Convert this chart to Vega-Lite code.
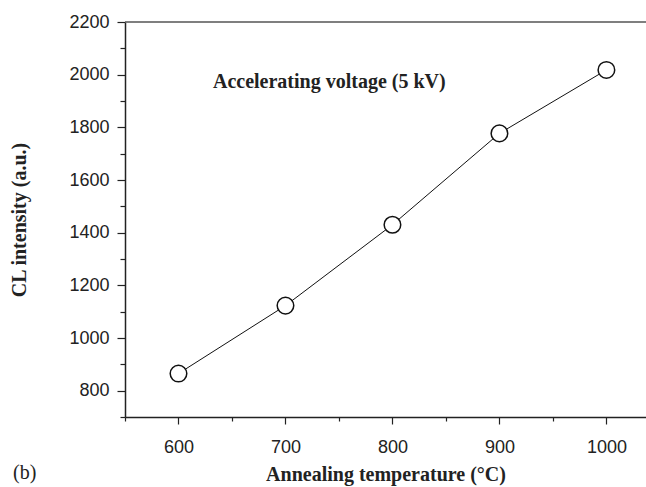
{
  "$schema": "https://vega.github.io/schema/vega-lite/v6.json",
  "width": 521,
  "height": 395,
  "autosize": {"type": "none"},
  "padding": {"left": 125, "top": 22, "right": 0, "bottom": 70},
  "background": "white",
  "config": {
    "view": {"stroke": null},
    "axis": {
      "titleFont": "Liberation Serif",
      "titleFontWeight": "bold",
      "titleFontSize": 20,
      "titleColor": "#222",
      "labelFont": "Liberation Sans",
      "labelFontSize": 18,
      "labelColor": "#222",
      "domainColor": "#222",
      "domainWidth": 1.5,
      "tickColor": "#222",
      "tickWidth": 1.2,
      "grid": false,
      "labelFlush": false,
      "labelOverlap": false
    }
  },
  "title": {
    "text": "(b)",
    "orient": "bottom",
    "anchor": "start",
    "frame": "group",
    "font": "Liberation Serif",
    "fontSize": 20,
    "fontWeight": "normal",
    "color": "#222",
    "dx": -112,
    "offset": -21
  },
  "datasets": {
    "points": [
      {"temperature": 600, "intensity": 865},
      {"temperature": 700, "intensity": 1123},
      {"temperature": 800, "intensity": 1430},
      {"temperature": 900, "intensity": 1777},
      {"temperature": 1000, "intensity": 2018}
    ],
    "notes": [
      {"note": "Accelerating voltage (5 kV)"}
    ]
  },
  "layer": [
    {
      "data": {"name": "points"},
      "mark": {"type": "line", "color": "#111", "strokeWidth": 1},
      "encoding": {
        "x": {
          "field": "temperature",
          "type": "quantitative",
          "scale": {"domain": [550, 1037], "nice": false, "zero": false},
          "axis": {
            "values": [550, 600, 650, 700, 750, 800, 850, 900, 950, 1000],
            "format": "d",
            "labelExpr": "datum.value % 100 === 0 ? datum.label : ''",
            "tickSize": {"condition": {"test": "datum.value % 100 === 0", "value": 7}, "value": 4},
            "title": "Annealing temperature (°C)",
            "labelPadding": 14,
            "titlePadding": 8
          }
        },
        "y": {
          "field": "intensity",
          "type": "quantitative",
          "scale": {"domain": [700, 2200], "nice": false, "zero": false},
          "axis": {
            "values": [700, 800, 900, 1000, 1100, 1200, 1300, 1400, 1500, 1600, 1700, 1800, 1900, 2000, 2100, 2200],
            "format": "d",
            "labelExpr": "datum.value % 200 === 0 ? datum.label : ''",
            "tickSize": {"condition": {"test": "datum.value % 200 === 0", "value": 8}, "value": 5},
            "title": "CL intensity (a.u.)",
            "labelPadding": 8,
            "titlePadding": 39
          }
        }
      }
    },
    {
      "data": {"name": "points"},
      "mark": {"type": "point", "shape": "circle", "filled": true, "fill": "white", "stroke": "#111", "strokeWidth": 1.5, "size": 275, "opacity": 1},
      "encoding": {
        "x": {
          "field": "temperature",
          "type": "quantitative",
          "axis": {
            "values": [550, 600, 650, 700, 750, 800, 850, 900, 950, 1000],
            "format": "d",
            "labelExpr": "datum.value % 100 === 0 ? datum.label : ''",
            "tickSize": {"condition": {"test": "datum.value % 100 === 0", "value": 7}, "value": 4},
            "title": "Annealing temperature (°C)",
            "labelPadding": 14,
            "titlePadding": 8
          }
        },
        "y": {
          "field": "intensity",
          "type": "quantitative",
          "axis": {
            "values": [700, 800, 900, 1000, 1100, 1200, 1300, 1400, 1500, 1600, 1700, 1800, 1900, 2000, 2100, 2200],
            "format": "d",
            "labelExpr": "datum.value % 200 === 0 ? datum.label : ''",
            "tickSize": {"condition": {"test": "datum.value % 200 === 0", "value": 8}, "value": 5},
            "title": "CL intensity (a.u.)",
            "labelPadding": 8,
            "titlePadding": 39
          }
        }
      }
    },
    {
      "data": {"name": "notes"},
      "mark": {"type": "rule", "color": "#555", "strokeWidth": 1.5},
      "encoding": {
        "x": {
          "datum": 550,
          "type": "quantitative",
          "axis": {
            "values": [550, 600, 650, 700, 750, 800, 850, 900, 950, 1000],
            "format": "d",
            "labelExpr": "datum.value % 100 === 0 ? datum.label : ''",
            "tickSize": {"condition": {"test": "datum.value % 100 === 0", "value": 7}, "value": 4},
            "title": "Annealing temperature (°C)",
            "labelPadding": 14,
            "titlePadding": 8
          }
        },
        "x2": {"datum": 1037},
        "y": {
          "datum": 2200,
          "type": "quantitative",
          "axis": {
            "values": [700, 800, 900, 1000, 1100, 1200, 1300, 1400, 1500, 1600, 1700, 1800, 1900, 2000, 2100, 2200],
            "format": "d",
            "labelExpr": "datum.value % 200 === 0 ? datum.label : ''",
            "tickSize": {"condition": {"test": "datum.value % 200 === 0", "value": 8}, "value": 5},
            "title": "CL intensity (a.u.)",
            "labelPadding": 8,
            "titlePadding": 39
          }
        }
      }
    },
    {
      "data": {"name": "notes"},
      "mark": {"type": "text", "font": "Liberation Serif", "fontWeight": "bold", "fontSize": 20, "color": "#222", "align": "center", "baseline": "alphabetic"},
      "encoding": {
        "x": {
          "datum": 741,
          "type": "quantitative",
          "axis": {
            "values": [550, 600, 650, 700, 750, 800, 850, 900, 950, 1000],
            "format": "d",
            "labelExpr": "datum.value % 100 === 0 ? datum.label : ''",
            "tickSize": {"condition": {"test": "datum.value % 100 === 0", "value": 7}, "value": 4},
            "title": "Annealing temperature (°C)",
            "labelPadding": 14,
            "titlePadding": 8
          }
        },
        "y": {
          "datum": 1950,
          "type": "quantitative",
          "axis": {
            "values": [700, 800, 900, 1000, 1100, 1200, 1300, 1400, 1500, 1600, 1700, 1800, 1900, 2000, 2100, 2200],
            "format": "d",
            "labelExpr": "datum.value % 200 === 0 ? datum.label : ''",
            "tickSize": {"condition": {"test": "datum.value % 200 === 0", "value": 8}, "value": 5},
            "title": "CL intensity (a.u.)",
            "labelPadding": 8,
            "titlePadding": 39
          }
        },
        "text": {"field": "note"}
      }
    }
  ]
}
